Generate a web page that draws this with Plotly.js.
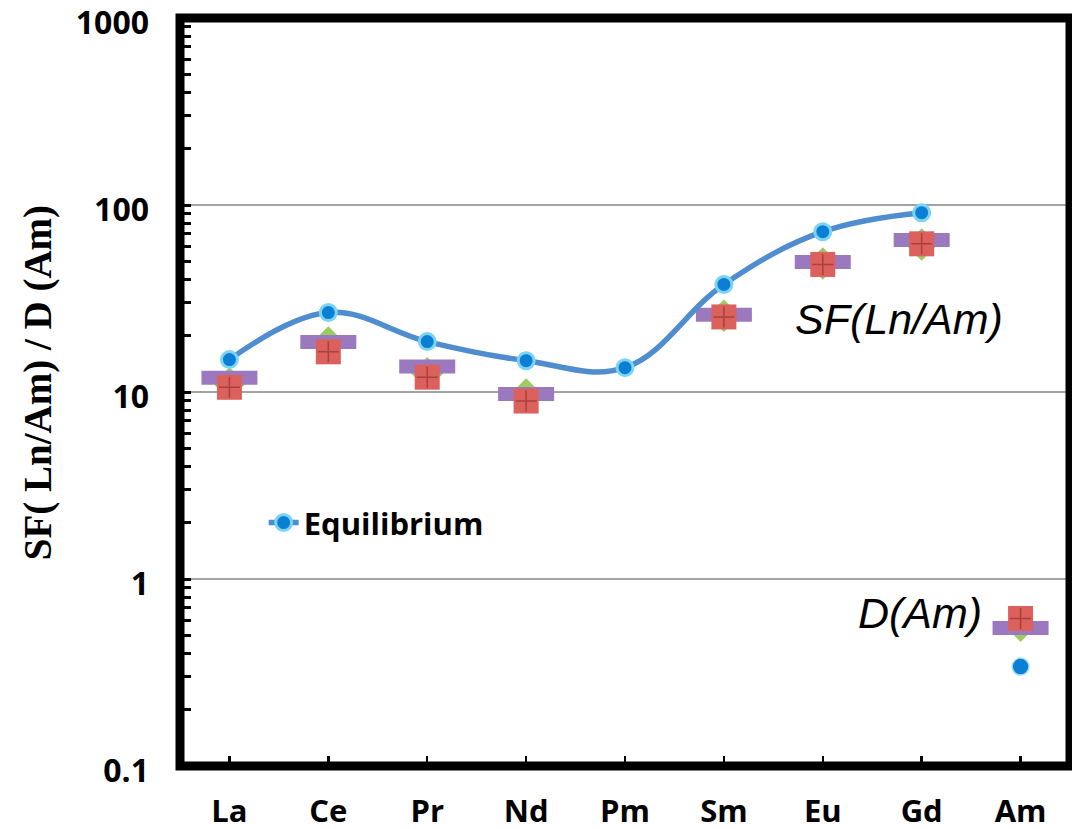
<!DOCTYPE html>
<html>
<head>
<meta charset="utf-8">
<script src="https://cdn.plot.ly/plotly-3.0.1.min.js"></script>
<style>
  html, body { margin: 0; padding: 0; background: #fff; }
  #chart { width: 1072px; height: 829px; }
</style>
</head>
<body>
<div id="chart"></div>
<script>
// Elements along the x axis
const elements = ['La', 'Ce', 'Pr', 'Nd', 'Pm', 'Sm', 'Eu', 'Gd', 'Am'];

// Equilibrium separation factors SF(Ln/Am) for the lanthanides
const lnElements = ['La', 'Ce', 'Pr', 'Nd', 'Pm', 'Sm', 'Eu', 'Gd'];
const eqSF = [14.9, 26.6, 18.6, 14.7, 13.5, 37.6, 72, 91];
// Equilibrium distribution ratio D(Am)
const eqDAm = [0.34];

// Other measured series (no point for Pm)
const redVals    = [10.6, 16.4, 12.0, 8.95, null, 25.2, 48.1, 62.0, 0.615];
const purpleVals = [11.9, 18.5, 13.7, 9.76, null, 25.9, 49.5, 65.0, 0.547];
const greenVals  = [11.1, 18.4, 12.6, 9.7,  null, 25.6, 48.6, 61.5, 0.563];

// Axis tick labels
const yTickVals = [0.1, 1, 10, 100, 1000];
const yTickText = ['0.1', '1', '10', '100', '1000'];
const yMinorVals = [];
[0.1, 1, 10, 100].forEach(d => { for (let k = 2; k <= 9; k++) yMinorVals.push(d * k); });

const traces = [
  {
    x: elements, y: greenVals, type: 'scatter', mode: 'markers', showlegend: false,
    marker: { symbol: 'diamond', size: 25, color: '#9dcb5f', line: { width: 0 } },
    hoverinfo: 'skip'
  },
  {
    x: elements, y: purpleVals, type: 'scatter', mode: 'markers', showlegend: false,
    marker: { symbol: 'line-ew', size: 40, color: '#9b79be', line: { width: 14, color: '#9b79be' } },
    hoverinfo: 'skip'
  },
  {
    x: elements, y: redVals, type: 'scatter', mode: 'markers', showlegend: false,
    marker: { symbol: 'square', size: 25, color: '#dc605b', line: { width: 0 } },
    hoverinfo: 'skip'
  },
  {
    x: elements, y: redVals, type: 'scatter', mode: 'markers', showlegend: false,
    marker: { symbol: 'cross-thin', size: 15, color: '#a8403d', line: { width: 1.5, color: '#a8403d' } },
    hoverinfo: 'skip'
  },
  {
    x: lnElements, y: eqSF, type: 'scatter', mode: 'lines+markers', name: 'Equilibrium',
    line: { color: '#4f8dcf', width: 5.5, shape: 'spline', smoothing: 1.1 },
    marker: { symbol: 'circle', size: 16, color: '#0a7fd4', line: { width: 3, color: '#7cd4f2' } }
  },
  {
    x: ['Am'], y: eqDAm, type: 'scatter', mode: 'markers', showlegend: false,
    marker: { symbol: 'circle', size: 17, color: '#0a7fd4', line: { width: 1.5, color: '#a8def5' } }
  }
];

const layout = {
  width: 1072, height: 829,
  margin: { l: 180, r: 2, t: 18, b: 63 },
  paper_bgcolor: '#ffffff', plot_bgcolor: '#ffffff',
  font: { family: 'Open Sans', color: '#000' },
  showlegend: true,
  legend: {
    x: 0.094, y: 0.325, xanchor: 'left', yanchor: 'middle',
    bgcolor: 'rgba(0,0,0,0)',
    font: { family: 'Open Sans', size: 31, weight: 700, color: '#000' }
  },
  xaxis: {
    type: 'category', categoryorder: 'array', categoryarray: elements,
    range: [-0.5, 8.5],
    showline: false, showgrid: false, zeroline: false,
    ticks: 'inside', ticklen: 10, tickwidth: 2.5, tickcolor: '#000',
    ticklabelstandoff: 24, ticklabeloverflow: 'allow',
    tickfont: { family: 'Open Sans', size: 31, weight: 700, color: '#000' }
  },
  yaxis: {
    type: 'log', range: [-1, 3],
    tickmode: 'array', tickvals: yTickVals, ticktext: yTickText,
    showline: false, zeroline: false,
    showgrid: true, gridcolor: '#a3a3a3', gridwidth: 2.5,
    ticks: 'inside', ticklen: 11, tickwidth: 3, tickcolor: '#000',
    ticklabelstandoff: 30, ticklabelshift: 5, ticklabeloverflow: 'allow',
    tickfont: { family: 'Open Sans', size: 32, weight: 700, color: '#000' },
    minor: { tickmode: 'array', tickvals: yMinorVals, ticks: 'inside', ticklen: 11,
             tickwidth: 3, tickcolor: '#000', showgrid: false }
  },
  shapes: [
    { type: 'rect', xref: 'paper', yref: 'paper', x0: 0, x1: 1, y0: 0, y1: 1,
      line: { color: '#000', width: 9 }, fillcolor: 'rgba(0,0,0,0)' }
  ],
  annotations: [
    { text: 'SF( Ln/Am) / D (Am)', xref: 'paper', yref: 'paper', x: -0.1596, y: 0.513,
      textangle: -90, showarrow: false, xanchor: 'center', yanchor: 'middle',
      font: { family: 'Liberation Serif', size: 39, weight: 700, color: '#000' } },
    { text: '<i>SF(Ln/Am)</i>', xref: 'paper', yref: 'paper', x: 0.8084, y: 0.597,
      showarrow: false, xanchor: 'center', yanchor: 'middle',
      font: { family: 'Liberation Sans', size: 43, color: '#000' } },
    { text: '<i>D(Am)</i>', xref: 'paper', yref: 'paper', x: 0.8315, y: 0.205,
      showarrow: false, xanchor: 'center', yanchor: 'middle',
      font: { family: 'Liberation Sans', size: 43, color: '#000' } }
  ]
};

Plotly.newPlot('chart', traces, layout, { displayModeBar: false, staticPlot: true });
</script>
</body>
</html>
